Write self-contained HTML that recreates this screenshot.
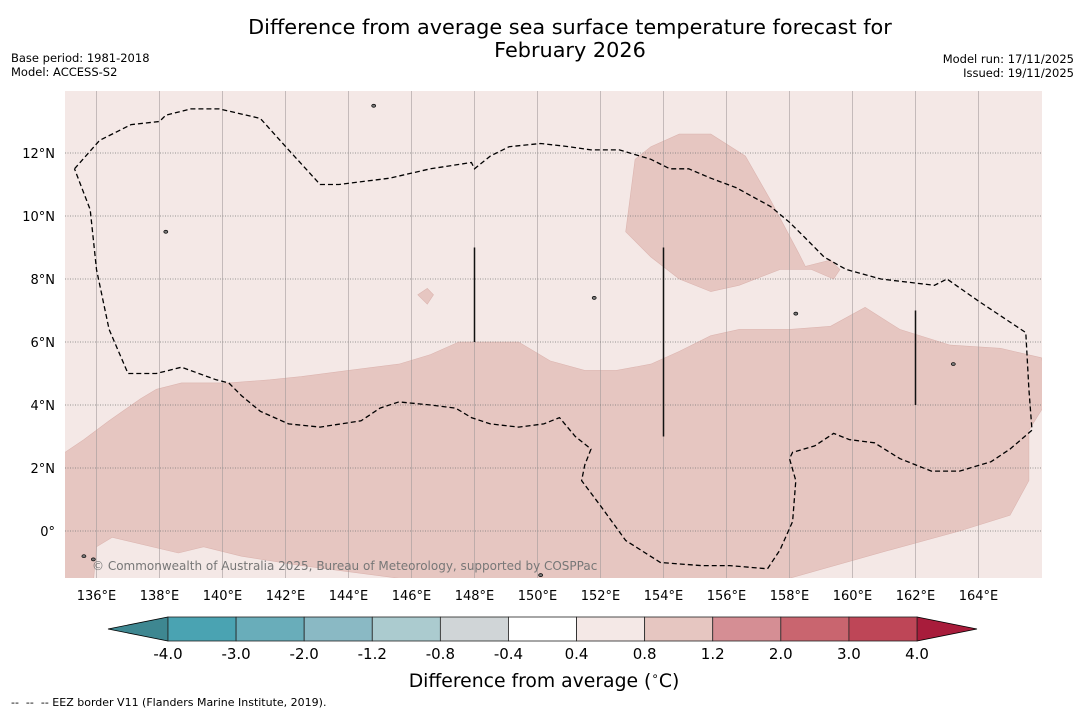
<!DOCTYPE html>
<html><head><meta charset="utf-8">
<style>
body{margin:0;background:#fff;font-family:"DejaVu Sans","Liberation Sans",sans-serif;}
svg text{font-family:"DejaVu Sans","Liberation Sans",sans-serif;}
</style></head>
<body>
<svg id="chart" width="1085" height="713" viewBox="0 0 1085 713" xmlns="http://www.w3.org/2000/svg">
<rect width="1085" height="713" fill="#fff"/>
<text x="570" y="34" text-anchor="middle" font-size="20.8" fill="#000">Difference from average sea surface temperature forecast for</text>
<text x="570" y="57" text-anchor="middle" font-size="20.8" fill="#000">February 2026</text>
<text x="11" y="62" font-size="11.5">Base period: 1981-2018</text>
<text x="11" y="76" font-size="11.5">Model: ACCESS-S2</text>
<text x="1074" y="63" font-size="11.5" text-anchor="end">Model run: 17/11/2025</text>
<text x="1074" y="77" font-size="11.5" text-anchor="end">Issued: 19/11/2025</text>
<defs><clipPath id="mapclip"><rect x="65" y="91" width="977" height="487"/></clipPath></defs>
<g id="map" clip-path="url(#mapclip)"></g>
<g id="axes"></g>
<g id="cbar"></g>
<text x="544" y="687" text-anchor="middle" font-size="18.8">Difference from average (<tspan font-size="12" dy="-7">∘</tspan><tspan dy="7">C)</tspan></text>
<text x="11" y="706" font-size="11" xml:space="preserve">--  --  -- EEZ border V11 (Flanders Marine Institute, 2019).</text>
</svg>
<script>
const lonTicks=[136,138,140,142,144,146,148,150,152,154,156,158,160,162,164];
const latTicks=[0,2,4,6,8,10,12];
const bounds=[-4.0,-3.0,-2.0,-1.2,-0.8,-0.4,0.4,0.8,1.2,2.0,3.0,4.0];
const binColors=["#4aa3b2","#69adba","#8ab9c4","#abcbcf","#d0d5d7","#ffffff","#f4e8e6","#e6c6c1","#d58e94","#c9656f","#be4657"];
const lowerRegion=[[135.0,2.5],[135.6,2.9],[136.4,3.5],[137.4,4.2],[137.9,4.5],[138.7,4.7],[140.2,4.7],[141.5,4.8],[142.5,4.9],[144.0,5.1],[145.6,5.3],[146.6,5.6],[147.5,6.0],[149.4,6.0],[150.4,5.4],[151.5,5.1],[152.5,5.1],[153.6,5.3],[154.5,5.7],[155.5,6.2],[156.4,6.4],[158.0,6.4],[159.3,6.5],[160.4,7.1],[161.5,6.4],[163.1,5.9],[164.7,5.8],[166.0,5.5],[166.1,5.1],[166.1,4.0],[165.6,3.2],[165.6,1.6],[165.0,0.5],[163.4,0.0],[161.2,-0.6],[158.0,-1.5],[145.6,-1.5],[142.5,-1.1],[140.6,-0.8],[139.4,-0.5],[138.6,-0.7],[136.5,-0.2],[136.0,-0.5],[135.9,-1.6],[134.9,-1.6],[134.9,2.5]];
const upperRegion=[[152.8,9.5],[153.1,11.8],[153.6,12.2],[154.5,12.6],[155.5,12.6],[156.6,11.9],[157.4,10.5],[158.3,8.8],[158.5,8.4],[159.3,8.6],[159.6,8.3],[159.4,8.0],[158.7,8.3],[157.7,8.3],[156.4,7.8],[155.5,7.6],[154.5,8.0],[153.6,8.7]];
const smallPatch=[[146.2,7.5],[146.5,7.7],[146.7,7.5],[146.5,7.2]];
const eez=[[135.3,11.5],[136.1,12.4],[137.1,12.9],[138.0,13.0],[138.2,13.2],[139.0,13.4],[139.9,13.4],[141.2,13.1],[142.1,12.1],[143.1,11.0],[143.7,11.0],[145.3,11.2],[146.6,11.5],[147.9,11.7],[148.0,11.5],[148.5,11.9],[149.1,12.2],[150.1,12.3],[151.0,12.2],[151.7,12.1],[152.6,12.1],[153.6,11.8],[154.2,11.5],[154.8,11.5],[155.5,11.2],[156.3,10.9],[157.4,10.3],[158.0,9.8],[158.5,9.3],[159.1,8.7],[159.8,8.3],[160.9,8.0],[162.6,7.8],[163.0,8.0],[164.0,7.3],[165.5,6.3],[165.6,4.5],[165.7,3.2],[165.0,2.6],[164.4,2.2],[163.4,1.9],[162.5,1.9],[161.5,2.3],[160.7,2.8],[159.9,2.9],[159.4,3.1],[158.8,2.7],[158.1,2.5],[158.0,2.3],[158.2,1.6],[158.1,0.3],[157.7,-0.6],[157.3,-1.2],[156.1,-1.1],[155.2,-1.1],[153.9,-1.0],[152.8,-0.3],[152.0,0.8],[151.4,1.6],[151.5,2.1],[151.7,2.6],[151.2,3.0],[150.7,3.6],[150.2,3.4],[149.4,3.3],[148.5,3.4],[147.9,3.6],[147.4,3.9],[146.6,4.0],[145.6,4.1],[145.0,3.9],[144.4,3.5],[143.1,3.3],[142.1,3.4],[141.2,3.8],[140.6,4.3],[140.2,4.7],[139.8,4.8],[138.7,5.2],[137.9,5.0],[137.0,5.0],[136.4,6.4],[136.0,8.3],[135.8,10.2],[135.3,11.5]];
const meridianSegs=[[148,6.0,9.0],[154,3.0,9.0],[162,4.0,7.0]];
const islands=[[135.6,-0.8],[135.9,-0.9],[144.8,13.5],[138.2,9.5],[151.8,7.4],[158.2,6.9],[163.2,5.3],[150.1,-1.4]];

const NS="http://www.w3.org/2000/svg";
const X=lon=>65+(lon-135)*31.5, Y=lat=>531-lat*31.5;
function mk(tag,attrs,parent){const e=document.createElementNS(NS,tag);for(const k in attrs)e.setAttribute(k,attrs[k]);parent.appendChild(e);return e;}
const pts=a=>a.map(p=>X(p[0]).toFixed(1)+","+Y(p[1]).toFixed(1)).join(" ");
const map=document.getElementById("map"), axes=document.getElementById("axes"), cb=document.getElementById("cbar");
let e;
e=mk("rect",{x:65,y:91,width:977,height:487,fill:binColors[6]},map);


[[lowerRegion,'anomaly-region-south'],[upperRegion,'anomaly-region-north'],[smallPatch,'anomaly-patch']].forEach(([r,n])=>{
 e=mk("polygon",{points:pts(r),fill:binColors[7],stroke:"#dcb5b0","stroke-width":0.6},map);
 
 
});
lonTicks.forEach(l=>{
 e=mk("line",{x1:X(l),x2:X(l),y1:91,y2:578,stroke:"#a09898","stroke-width":0.8,opacity:0.7},map);
 
 
});
latTicks.forEach(l=>{
 e=mk("line",{x1:65,x2:1042,y1:Y(l),y2:Y(l),stroke:"#777","stroke-width":0.8,"stroke-dasharray":"1,1.5"},map);
 
 
});
e=mk("polyline",{points:pts(eez),fill:"none",stroke:"#000","stroke-width":1.3,"stroke-dasharray":"5,3"},map);


meridianSegs.forEach(s=>{
 e=mk("line",{x1:X(s[0]),x2:X(s[0]),y1:Y(s[1]),y2:Y(s[2]),stroke:"#111","stroke-width":1.5},map);
 
 
});
islands.forEach(p=>{
 e=mk("ellipse",{cx:X(p[0]),cy:Y(p[1]),rx:2,ry:1.5,fill:"#777",stroke:"#000","stroke-width":0.7},map);
 
 
});
e=mk("text",{x:92,y:570,"font-size":12,fill:"#777"},map);
e.textContent="© Commonwealth of Australia 2025, Bureau of Meteorology, supported by COSPPac";


lonTicks.forEach(l=>{
 e=mk("text",{x:X(l),y:600,"text-anchor":"middle","font-size":13},axes);
 e.textContent=l+"°E";
 
 
});
latTicks.forEach(l=>{
 e=mk("text",{x:55,y:Y(l)+5,"text-anchor":"end","font-size":13},axes);
 e.textContent=l===0?"0°":l+"°N";
 
 
});
const cx0=168,cx1=917,cy=617,ch=24,bw=(cx1-cx0)/(bounds.length-1);
e=mk("polygon",{points:`108,629 ${cx0},${cy} ${cx0},${cy+ch}`,fill:"#3e8791",stroke:"#000","stroke-width":0.8},cb);


e=mk("polygon",{points:`977,629 ${cx1},${cy} ${cx1},${cy+ch}`,fill:"#a81c3b",stroke:"#000","stroke-width":0.8},cb);


binColors.forEach((c,i)=>{
 e=mk("rect",{x:cx0+i*bw,y:cy,width:bw,height:ch,fill:c,stroke:"#222","stroke-width":0.8},cb);
 
 
});
bounds.forEach((b,i)=>{
 e=mk("text",{x:cx0+i*bw,y:659,"text-anchor":"middle","font-size":15},cb);
 e.textContent=b.toFixed(1);
 
 
});
</script>
</body></html>
